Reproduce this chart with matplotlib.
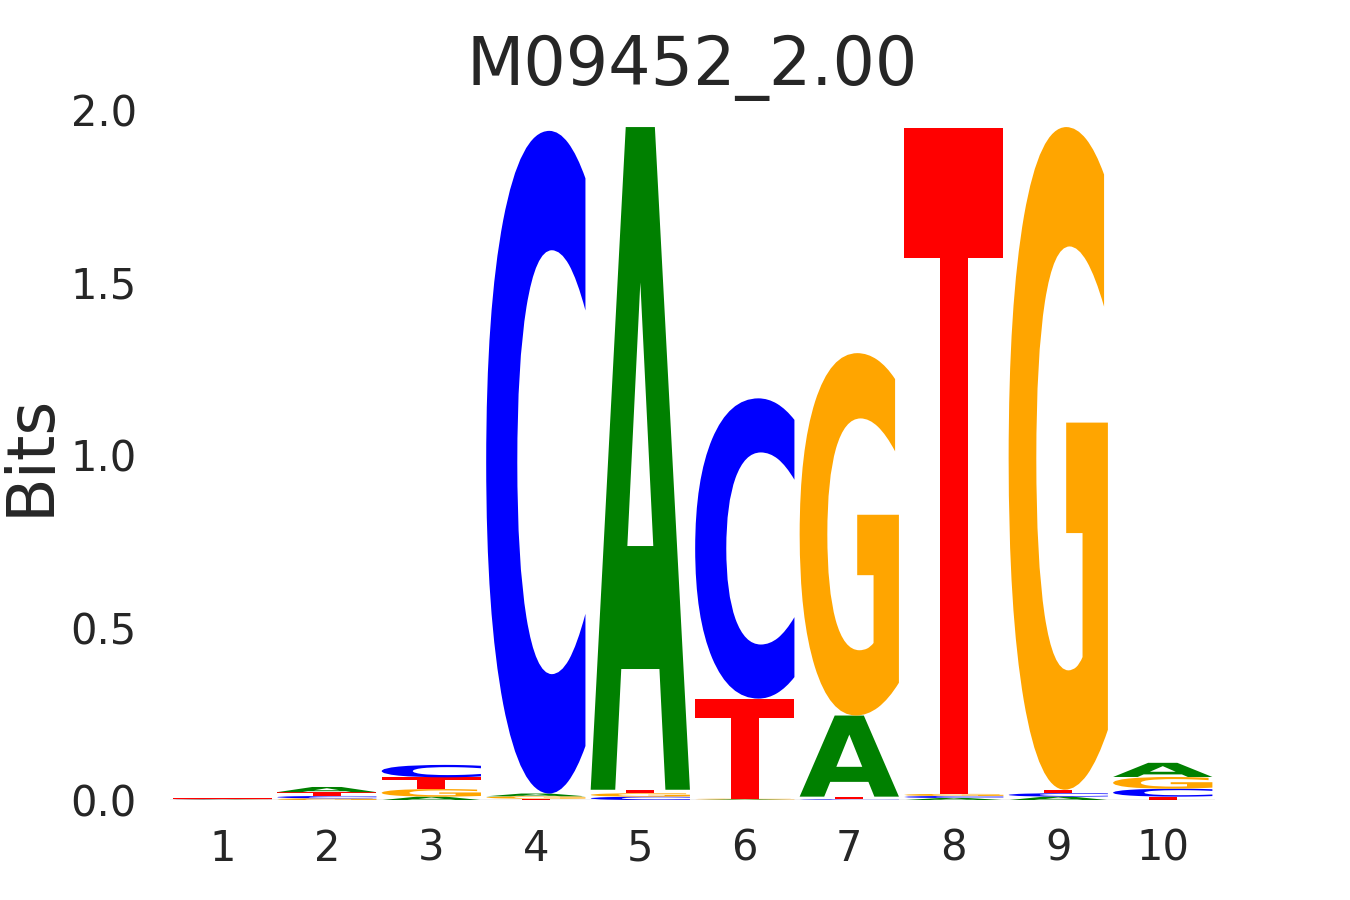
import matplotlib
matplotlib.use("Agg")
from matplotlib import pyplot as plt
from matplotlib.textpath import TextPath
from matplotlib.patches import PathPatch
from matplotlib.font_manager import FontProperties
from matplotlib.transforms import Affine2D

# ---------- motif heights (bits) per position ----------
positions = [1, 2, 3, 4, 5, 6, 7, 8, 9, 10]
bits_A = [0.001, 0.015, 0.010, 0.008, 1.920, 0.002, 0.235, 0.006, 0.010, 0.041]
bits_C = [0.001, 0.007, 0.036, 1.920, 0.010, 0.870, 0.002, 0.006, 0.010, 0.023]
bits_G = [0.001, 0.005, 0.022, 0.007, 0.010, 0.002, 1.050, 0.006, 1.920, 0.034]
bits_T = [0.002, 0.011, 0.034, 0.004, 0.010, 0.290, 0.008, 1.930, 0.010, 0.010]

letters = ["A", "C", "G", "T"]
colors = {"A": "#008000", "C": "#0000ff", "G": "#ffa500", "T": "#ff0000"}

title = "M09452_2.00"
yticks = [0.0, 0.5, 1.0, 1.5, 2.0]

# ---------- glyph drawing ----------
fp = FontProperties(family="DejaVu Sans", weight="bold")


def draw_glyph(ax, char, x, floor, ceiling, color, width=0.95):
    path = TextPath((0, 0), char, size=1, prop=fp)
    ext = path.get_extents()
    h = ceiling - floor
    if h <= 0:
        return
    tf = (Affine2D()
          .translate(-ext.x0, -ext.y0)
          .scale(width / ext.width, h / ext.height)
          .translate(x - width / 2, floor))
    patch = PathPatch(tf.transform_path(path), facecolor=color,
                      edgecolor="none", linewidth=0)
    ax.add_patch(patch)


fig = plt.figure(figsize=(13.5, 9), dpi=100)
ax = fig.add_axes([0.126, 0.111, 0.774, 0.767])

table = {"A": bits_A, "C": bits_C, "G": bits_G, "T": bits_T}
for i, p in enumerate(positions):
    vals = sorted([(table[c][i], c) for c in letters])  # smallest at bottom
    floor = 0.0
    for v, c in vals:
        draw_glyph(ax, c, p, floor, floor + v, colors[c])
        floor += v

ax.axhline(0, color="black", linewidth=0.8, zorder=3)

ax.set_xlim(0.5, 10.5)
ax.set_ylim(0, 2.0)
ax.set_xticks(positions)
ax.set_xticklabels([str(p) for p in positions])
ax.set_yticks(yticks)
ax.set_yticklabels(["%.1f" % t for t in yticks])
for s in ax.spines.values():
    s.set_visible(False)

text_col = "#262626"
ax.tick_params(axis="both", length=0, labelsize=30, colors=text_col)
ax.tick_params(axis="x", pad=20)
ax.tick_params(axis="y", pad=24)
ax.set_ylabel("Bits", fontsize=47, color=text_col, labelpad=6)
ax.set_title(title, fontsize=48, color=text_col, pad=18)

fig.savefig("out.png", dpi=100)
